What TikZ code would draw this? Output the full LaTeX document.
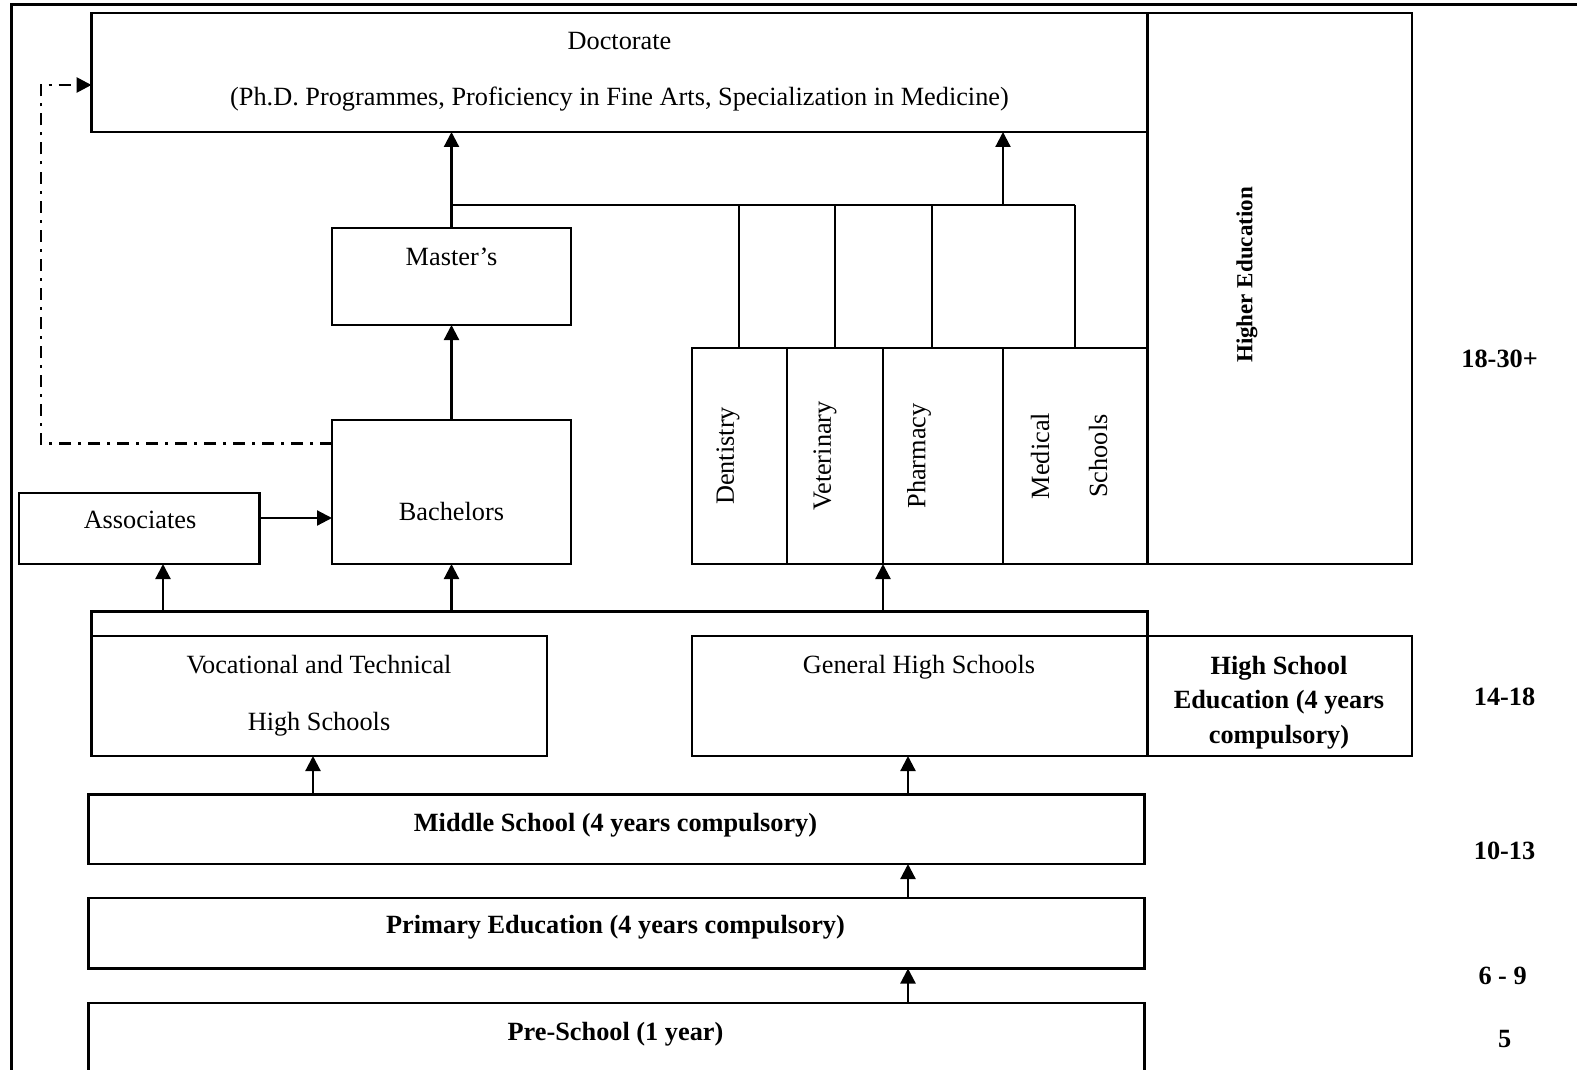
\documentclass[tikz,border=0pt]{standalone}
\usepackage{fontspec}
\setmainfont{Liberation Serif}
\usetikzlibrary{arrows.meta}
\begin{document}
\begin{tikzpicture}[x=1pt,y=-1pt,
  box/.style={draw, line width=2.2pt, rectangle, inner sep=0pt, outer sep=0pt},
  txt/.style={inner sep=0pt, font=\fontsize{26.3}{34.5}\selectfont},
  btxt/.style={inner sep=0pt, font=\fontsize{26.3}{34.5}\selectfont\bfseries},
  conn/.style={line width=2.2pt},
  arr/.style={line width=2.2pt, -{Triangle[length=15pt,width=15pt]}},
  dashdot/.style={line width=2.8pt, dash pattern=on 12pt off 7pt on 3pt off 7pt, -{Triangle[length=15pt,width=15pt]}},
]
\useasboundingbox (0,0) rectangle (1577,1070);
\clip (0,0) rectangle (1577,1070);

% outer frame
\draw[line width=3pt] (11,1080) -- (11,5) -- (1590,5);

% boxes
\node[box, minimum width=1056pt, minimum height=119pt] (doc) at (619.5,72.5) {};
\node[box, minimum width=264.5pt, minimum height=551pt] (he) at (1279.75,288.5) {};
\node[box, minimum width=239pt, minimum height=97pt] (mas) at (451.5,276.5) {};
\node[box, minimum width=239pt, minimum height=144pt] (bac) at (451.5,492) {};
\node[box, minimum width=240.5pt, minimum height=71pt] (asso) at (139.25,528.5) {};
\node[box, minimum width=95.3pt, minimum height=216pt] (dent) at (739.35,456) {};
\node[box, minimum width=96pt, minimum height=216pt] (vet) at (835,456) {};
\node[box, minimum width=120pt, minimum height=216pt] (pha) at (943,456) {};
\node[box, minimum width=144.5pt, minimum height=216pt] (msch) at (1075.25,456) {};
\node[box, minimum width=455.5pt, minimum height=120pt] (vths) at (319.25,696) {};
\node[box, minimum width=455.5pt, minimum height=120pt] (ghs) at (919.75,696) {};
\node[box, minimum width=264.5pt, minimum height=120pt] (hse) at (1279.75,696) {};
\node[box, minimum width=1056pt, minimum height=69.5pt] (mid) at (616.5,829.25) {};
\node[box, minimum width=1056pt, minimum height=70.5pt] (pri) at (616.5,933.25) {};
\node[box, minimum width=1056pt, minimum height=97pt] (pre) at (616.5,1051.5) {};

% texts
\node[txt] (tdoc) at (619.5,41) {Doctorate};
\node[txt] (tphd) at (619.5,99) {(Ph.D. Programmes, Proficiency in Fine Arts, Specialization in Medicine)};
\node[btxt, rotate=90, font=\fontsize{23}{28}\selectfont\bfseries] (the) at (1247,275) {Higher Education};
\node[txt] (tmas) at (451.5,257) {Master’s};
\node[txt] (tbac) at (451.5,511) {Bachelors};
\node[txt] (tasso) at (140,520) {Associates};
\node[txt, rotate=90] (tdent) at (728,456) {Dentistry};
\node[txt, rotate=90] (tvet) at (825,456) {Veterinary};
\node[txt, rotate=90] (tpha) at (919,456) {Pharmacy};
\node[txt, rotate=90] (tmed) at (1040,456) {Medical};
\node[txt, rotate=90] (tsch) at (1098,456) {Schools};
\node[txt] (tvt1) at (319,665) {Vocational and Technical};
\node[txt] (tvt2) at (319,724) {High Schools};
\node[txt] (tghs) at (919,667) {General High Schools};
\node[btxt, align=center] (thse) at (1279,702.5) {High School\\Education (4 years\\compulsory)};
\node[btxt] (tmid) at (615.5,825) {Middle School (4 years compulsory)};
\node[btxt] (tpri) at (615.5,927) {Primary Education (4 years compulsory)};
\node[btxt] (tpre) at (615.5,1034) {Pre-School (1 year)};

% ages
\node[btxt] (a1) at (1499.6,359) {18-30+};
\node[btxt] (a2) at (1504.6,697) {14-18};
\node[btxt] (a3) at (1504.6,851) {10-13};
\node[btxt] (a4) at (1502.6,975.5) {6 - 9};
\node[btxt] (a5) at (1504.6,1039) {5};

% upper connectors
\draw[arr] (mas.north) -- (mas.north |- doc.south);
\draw[arr] (bac.north) -- (mas.south);
\coordinate (barL) at (451.5,205);
\coordinate (barR) at (1075.25,205);
\coordinate (barD) at (1003,205);
\draw[conn] (barL) -- (barR);
\draw[arr] (barD) -- (barD |- doc.south);
\draw[conn] (dent.north) -- (dent.north |- barL);
\draw[conn] (vet.north) -- (vet.north |- barL);
\draw[conn] ([xshift=-11.3pt]pha.north) -- ([xshift=-11.3pt]pha.north |- barL);
\draw[conn] (msch.north) -- (msch.north |- barL);

% dash-dot path
\coordinate (dA) at (41,443.5);
\coordinate (dB) at (41,85);
\draw[dashdot] (bac.west |- dA) -- (dA) -- (dB) -- (doc.west |- dB);

% associates to bachelors
\coordinate (aY) at (0,518);
\draw[arr] (asso.east |- aY) -- (bac.west |- aY);

% lower bar
\coordinate (lb) at (0,611.5);
\draw[conn] (vths.north west) -- (vths.north west |- lb) -- (ghs.north east |- lb) -- (ghs.north east);
\coordinate (u1) at (163,611.5);
\draw[arr] (u1) -- (u1 |- asso.south);
\draw[arr] (bac.south |- lb) -- (bac.south);
\draw[arr] (pha.south west |- lb) -- (pha.south west);

% school arrows
\coordinate (m1) at (313,0);
\coordinate (m2) at (908,0);
\draw[arr] (mid.north -| m1) -- (vths.south -| m1);
\draw[arr] (mid.north -| m2) -- (ghs.south -| m2);
\draw[arr] (pri.north -| m2) -- (mid.south -| m2);
\draw[arr] (pre.north -| m2) -- (pri.south -| m2);
\end{tikzpicture}
\end{document}
